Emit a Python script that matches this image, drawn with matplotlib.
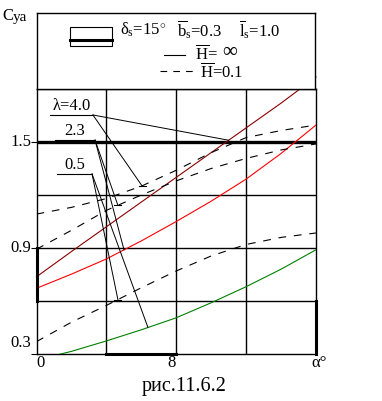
import numpy as np
import matplotlib
matplotlib.use("Agg")
import matplotlib.pyplot as plt
from matplotlib.patches import Rectangle

plt.rcParams["font.family"] = ["Liberation Serif", "DejaVu Serif"]
plt.rcParams["mathtext.fontset"] = "custom"
plt.rcParams["mathtext.rm"] = "Liberation Serif"
plt.rcParams["mathtext.it"] = "Liberation Serif:italic"

# angle of attack, deg
alpha = [0, 2, 4, 6, 8, 10, 12, 14, 16]

# H = inf (solid)
cy_inf_40 = [0.737, 0.88, 1.02, 1.16, 1.30, 1.44, 1.58, 1.72, 1.868]
cy_inf_23 = [0.672, 0.752, 0.838, 0.94, 1.05, 1.165, 1.29, 1.435, 1.596]
cy_inf_05 = [0.266, 0.315, 0.374, 0.437, 0.505, 0.59, 0.681, 0.78, 0.89]

# H = 0.1 (dashed)
cy_01_40 = [1.092, 1.13, 1.18, 1.25, 1.34, 1.44, 1.525, 1.565, 1.596]
cy_01_23 = [0.893, 1.0, 1.113, 1.20, 1.28, 1.35, 1.407, 1.455, 1.489]
cy_01_05 = [0.37, 0.48, 0.575, 0.675, 0.77, 0.855, 0.92, 0.96, 0.985]

lam_labels = ["\u03bb=4.0", "2.3", "0.5"]

FS = 12

fig = plt.figure(figsize=(3.82, 4.01), dpi=100)
ax = fig.add_axes([36.5 / 382, 47 / 401, 279.5 / 382, 265 / 401])
ax.set_xlim(0, 16)
ax.set_ylim(0.3, 1.8)

# grid
for gx in [4, 8, 12]:
    ax.axvline(gx, color="black", lw=1.0, zorder=1)
for gy in [0.6, 0.9, 1.2]:
    ax.axhline(gy, color="black", lw=1.0, zorder=1)
ax.axhline(1.5, color="black", lw=2.4, zorder=1)
for sp in ax.spines.values():
    sp.set_linewidth(1.0)

# thick frame pieces
ax.plot([0, 0], [0.6, 0.9], color="black", lw=2.2, clip_on=False, zorder=5)
ax.plot([4, 8], [0.3, 0.3], color="black", lw=2.2, clip_on=False, zorder=5)
ax.plot([16, 16], [0.3, 0.6], color="black", lw=2.2, clip_on=False, zorder=5)

ax.plot(alpha, cy_inf_40, color="#8b0000", lw=0.8, clip_on=False, zorder=3)
ax.plot(alpha, cy_inf_23, color="#ff0000", lw=0.8, zorder=3)
ax.plot(alpha, cy_inf_05, color="#008000", lw=0.8, zorder=3)
dash = (0, (7, 7))
ax.plot(alpha, cy_01_40, color="black", lw=0.8, ls=dash, zorder=3)
ax.plot(alpha, cy_01_23, color="black", lw=0.8, ls=dash, zorder=3)
ax.plot(alpha, cy_01_05, color="black", lw=0.8, ls=dash, zorder=3)

# leader lines: (label, underline x0, x1, y, targets)
leaders = [
    (lam_labels[0], 0.77, 3.23, 1.653, [(11.0, cy_inf_40, False), (6.04, cy_01_40, True)]),
    (lam_labels[1], 1.06, 3.35, 1.511, [(4.66, cy_01_23, True), (5.01, cy_inf_23, False)]),
    (lam_labels[2], 1.17, 3.18, 1.319, [(4.66, cy_01_05, True), (6.38, cy_inf_05, False)]),
]
for text, x0, x1, y, targets in leaders:
    ax.plot([x0, x1], [y, y], color="black", lw=0.8, zorder=4)
    ax.text((x0 + x1) / 2, y + 0.006, text, ha="center", va="bottom", fontsize=FS, zorder=4)
    for tx, curve, tick in targets:
        ty = np.interp(tx, alpha, curve)
        ax.plot([x1, tx], [y, ty], color="black", lw=0.7, zorder=4)
        if tick:
            ax.plot([tx - 0.2, tx + 0.2], [ty, ty], color="black", lw=0.8, zorder=4)

ax.set_xticks([])
ax.set_yticks([0.3, 0.9, 1.5])
ax.set_yticklabels([])
ax.tick_params(axis="y", length=4, width=0.8, direction="out")

ax.text(-0.3, 1.5, "1.5", ha="right", va="center", fontsize=FS)
ax.text(-0.3, 0.9, "0.9", ha="right", va="center", fontsize=FS)
ax.text(-0.3, 0.36, "0.3", ha="right", va="center", fontsize=FS)
ax.text(0.0, 0.25, "0", ha="left", va="center", fontsize=FS)
ax.text(8.0, 0.25, "8", ha="right", va="center", fontsize=FS)
ax.text(16.2, 0.25, "\u03b1\u00b0", ha="center", va="center", fontsize=FS)

fig.text(2 / 382, 1 - 16 / 401, "C", ha="left", va="center", fontsize=12)
fig.text(12.5 / 382, 1 - 18 / 401, "ya", ha="left", va="center", fontsize=11)
fig.text(184 / 382, 1 - 387 / 401, "\u0440\u0438\u0441.11.6.2", ha="center", va="center", fontsize=14.5)

# legend box
lg = fig.add_axes([37 / 382, 312 / 401, 278 / 382, 76 / 401])
lg.set_xlim(0, 1)
lg.set_ylim(0, 1)
lg.set_xticks([])
lg.set_yticks([])
for sp in lg.spines.values():
    sp.set_linewidth(1.0)
lg.add_patch(Rectangle((0.119, 0.566), 0.151, 0.254, fill=False, lw=0.8, ec="black"))
lg.plot([0.119, 0.270], [0.645, 0.645], color="black", lw=2.2)
lg.text(0.299, 0.776, "\u03b4$_\\mathrm{s}$=15$^{\\circ}$", ha="left", va="center", fontsize=FS)
lg.text(0.504, 0.776, "$\\overline{\\mathrm{b}}_\\mathrm{s}$=0.3", ha="left", va="center", fontsize=FS)
lg.text(0.727, 0.776, "$\\overline{\\mathrm{l}}_\\mathrm{s}$=1.0", ha="left", va="center", fontsize=FS)
lg.plot([0.457, 0.532], [0.447, 0.447], color="black", lw=0.8)
lg.text(0.57, 0.47, "$\\overline{\\mathrm{H}}$=", ha="left", va="center", fontsize=FS)
lg.text(0.665, 0.48, "\u221e", ha="left", va="center", fontsize=15)
lg.plot([0.442, 0.561], [0.237, 0.237], color="black", lw=0.8, ls=(0, (6, 5.5)))
lg.text(0.585, 0.215, "$\\overline{\\mathrm{H}}$=0.1", ha="left", va="center", fontsize=FS)

fig.savefig("out.png", dpi=100)
